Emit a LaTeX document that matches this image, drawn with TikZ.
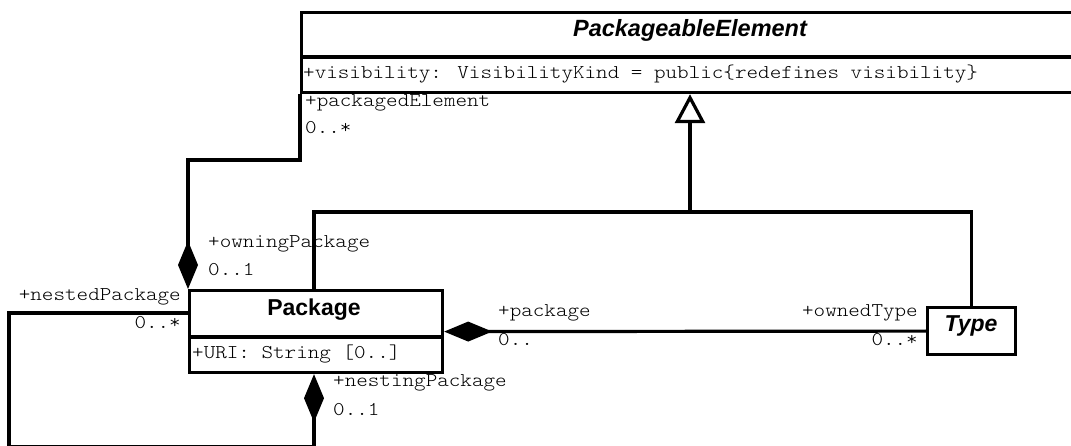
\documentclass[tikz,border=0pt]{standalone}
\usepackage{fontspec}
\setsansfont{Liberation Sans}
\newfontfamily\umlmono{Latin Modern Mono Light}[FakeStretch=1.13]
\usetikzlibrary{arrows.meta}
\begin{document}
\begin{tikzpicture}[x=1pt,y=-1pt,
  conn/.style={line width=3.2pt, line join=miter},
  box/.style={draw, line width=3.2pt, rectangle, inner sep=0pt, anchor=north west},
  lbl/.style={font=\fontsize{19.5}{20}\selectfont\umlmono, text=black, inner sep=0pt},
  title/.style={font=\fontsize{23}{24}\selectfont\sffamily\bfseries, inner sep=0pt, anchor=base},
  ititle/.style={title, font=\fontsize{23.5}{24}\selectfont\sffamily\bfseries\itshape},
  compo/.style={{Diamond[length=48pt,width=20pt]}-},
  gen/.style={-{Triangle[open,length=29pt,width=30pt,fill=white]}}]
\useasboundingbox (0,0) rectangle (1071,446);
\clip (0,0) rectangle (1071,446);

% classes
\node[box, minimum width=820pt, minimum height=80pt] (pe) at (300,11) {};
\node[box, minimum width=253pt, minimum height=82pt] (pkg) at (188,289) {};
\node[box, minimum width=88pt, minimum height=47pt] (type) at (926,306) {};

% compartments
\draw[conn] (pe.west |- 0,57) -- (pe.east |- 0,57);
\draw[conn] (pkg.west |- 0,337) -- (pkg.east |- 0,337);

\node[ititle] (pet) at (690,37) {PackageableElement};
\node[lbl, anchor=base west] (peattr) at (303,79) {+visibility: VisibilityKind = public\{redefines visibility\}};
\node[title] (pkgt) at (314,316) {Package};
\node[lbl, anchor=base west] (pkgattr) at (192,358) {+URI: String [0..]};
\node[ititle, font=\fontsize{23}{24}\selectfont\sffamily\bfseries\itshape] (typet) at (971,331) {Type};

% generalization: Package, Type -> PackageableElement
\coordinate (gj) at (690,212);
\draw[conn, gen] (gj) -- (gj |- pe.south);
\draw[conn] ([xshift=126pt]pkg.north west) |- (type.north |- gj) -- (type.north);

% composition: packagedElement / owningPackage
\coordinate (pe1) at (188,160);
\draw[conn, compo] (pkg.north west) -- (pe1) -- (pe1 -| pe.west) -- (pe.south west);
\node[lbl, anchor=base west] (l1) at (305,107) {+packagedElement};
\node[lbl, anchor=base west] (l2) at (305,134) {0..*};
\node[lbl, anchor=base west] (l3) at (208,248) {+owningPackage};
\node[lbl, anchor=base west] (l4) at (208,276) {0..1};

% composition: nestedPackage / nestingPackage
\coordinate (np0) at (188,313);
\coordinate (np1) at (9,313);
\coordinate (np2) at (9,447);
\coordinate (np3) at (314,447);
\draw[conn, compo] ([xshift=126pt]pkg.south west) -- (np3) -- (np2) -- (np1) -- (np0);
\node[lbl, anchor=base east] (l5) at (181,301) {+nestedPackage};
\node[lbl, anchor=base east] (l6) at (181,328) {0..*};
\node[lbl, anchor=base west] (l7) at (333,386) {+nestingPackage};
\node[lbl, anchor=base west] (l8) at (333,415) {0..1};

% composition: package / ownedType
\draw[conn, compo] (pkg.east) -- (type.west);
\node[lbl, anchor=base west] (l9) at (498,317) {+package};
\node[lbl, anchor=base west] (l10) at (498,345) {0..};
\node[lbl, anchor=base east] (l11) at (918,317) {+ownedType};
\node[lbl, anchor=base east] (l12) at (918,345) {0..*};
\end{tikzpicture}
\end{document}
